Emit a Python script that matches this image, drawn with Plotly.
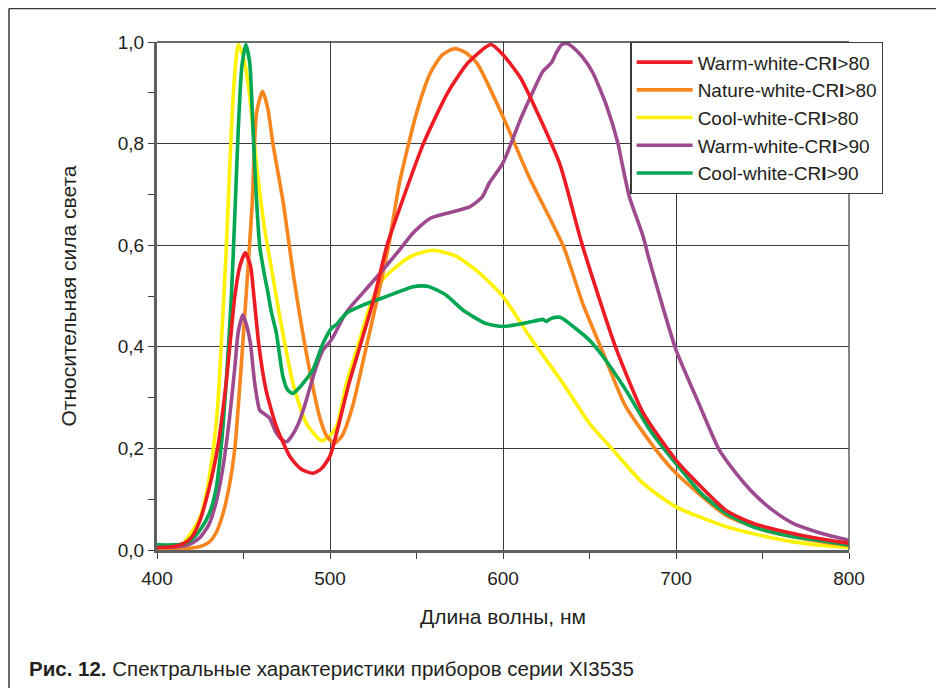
import plotly.graph_objects as go

# ---------------- data ----------------
legend_names = ["Warm-white-CR<b>I</b>>80", "Nature-white-CR<b>I</b>>80", "Cool-white-CR<b>I</b>>80",
                "Warm-white-CR<b>I</b>>90", "Cool-white-CR<b>I</b>>90"]

warm80_x = [400, 410, 415, 420, 425, 430, 435, 440, 445, 448, 451, 454, 456, 459, 463, 469, 477, 483,
            490, 495, 500, 511, 525, 533, 540, 554, 568, 580, 593, 600, 610, 620, 633, 645, 654, 665,
            681, 700, 710, 729, 745, 767, 785, 800]
warm80_y = [0.005, 0.007, 0.012, 0.025, 0.06, 0.12, 0.2, 0.33, 0.5, 0.56, 0.585, 0.56, 0.5, 0.4, 0.315,
            0.243, 0.183, 0.16, 0.151, 0.16, 0.185, 0.328, 0.49, 0.6, 0.67, 0.8, 0.9, 0.96, 0.995, 0.975,
            0.93, 0.86, 0.758, 0.61, 0.512, 0.40, 0.27, 0.177, 0.14, 0.078, 0.052, 0.033, 0.021, 0.013]

nature80_x = [400, 415, 420, 425, 430, 434, 438, 442, 445, 448, 452, 455, 457.5, 461, 464, 467, 473,
              479, 486, 494, 498, 502.5, 507, 513, 521, 529, 534.5, 540, 550, 558, 565, 572, 578, 585,
              600, 615, 635, 646, 658, 671, 690, 700, 729, 750, 768, 785, 800]
nature80_y = [0.002, 0.003, 0.004, 0.007, 0.015, 0.033, 0.07, 0.13, 0.2, 0.33, 0.525, 0.68, 0.86, 0.903,
              0.87, 0.80, 0.683, 0.538, 0.394, 0.262, 0.225, 0.21, 0.225, 0.282, 0.40, 0.52, 0.61, 0.72,
              0.86, 0.939, 0.975, 0.987, 0.98, 0.958, 0.853, 0.735, 0.597, 0.486, 0.387, 0.282, 0.19,
              0.151, 0.068, 0.04, 0.026, 0.016, 0.009]

cool80_x = [400, 410, 415, 420, 425, 429, 432.5, 435, 437, 440, 443, 445, 447, 450, 453.6, 457.4, 462.3,
            467, 471, 478.6, 486.4, 495, 500, 504, 509.5, 516, 523, 530, 538.4, 548, 559.5, 573, 586.5,
            600, 615.4, 634.7, 650, 662, 681, 700, 729, 750, 768, 785, 800]
cool80_y = [0.005, 0.008, 0.013, 0.035, 0.065, 0.12, 0.197, 0.28, 0.394, 0.59, 0.827, 0.94, 0.995, 0.97,
            0.893, 0.762, 0.63, 0.538, 0.459, 0.328, 0.249, 0.215, 0.225, 0.245, 0.328, 0.40, 0.479, 0.53,
            0.558, 0.58, 0.59, 0.578, 0.545, 0.499, 0.42, 0.328, 0.249, 0.203, 0.131, 0.085, 0.046,
            0.028, 0.016, 0.009, 0.005]

warm90_x = [400, 410, 415, 420, 425, 430, 434, 438, 442, 445, 447, 449.7, 452, 454, 456.5, 459.4, 462,
            465, 469, 472, 475, 478, 481, 485, 488, 492, 496, 500, 503, 508, 512, 520, 529, 540, 548, 558,
            570, 581, 588, 592, 600, 610, 617, 623, 628, 631, 634, 637, 640, 646, 652, 660, 666.5, 668.4,
            673, 681, 684, 690.6, 700, 714, 725, 735, 745, 756, 768, 785, 800]
warm90_y = [0.005, 0.006, 0.008, 0.013, 0.025, 0.05, 0.092, 0.16, 0.262, 0.36, 0.43, 0.463, 0.44, 0.407,
            0.328, 0.275, 0.268, 0.26, 0.23, 0.218, 0.213, 0.225, 0.243, 0.28, 0.315, 0.36, 0.394, 0.41,
            0.427, 0.46, 0.479, 0.51, 0.545, 0.59, 0.624, 0.653, 0.665, 0.676, 0.695, 0.722, 0.762, 0.847,
            0.9, 0.942, 0.959, 0.98, 0.995, 0.997, 0.991, 0.97, 0.939, 0.873, 0.80, 0.768, 0.696, 0.617,
            0.578, 0.499, 0.394, 0.282, 0.197, 0.15, 0.111, 0.078, 0.052, 0.032, 0.019]

cool90_x = [400, 410, 415, 420, 425, 430, 434, 437, 440, 443, 445, 447, 449, 451.3, 453.6, 455.5, 457.4,
            459.4, 462.3, 464.2, 466, 469, 472.8, 475.5, 478.6, 481, 484.4, 490, 496, 500.8, 504, 509.5,
            519, 532.6, 548, 553, 557.6, 567, 577, 590, 600, 611.6, 620, 623, 625, 628, 633, 642, 650,
            658, 671, 685, 700, 715, 729, 745, 768, 785, 800]
cool90_y = [0.01, 0.01, 0.012, 0.02, 0.04, 0.07, 0.118, 0.2, 0.33, 0.5, 0.66, 0.83, 0.95, 0.995, 0.959,
            0.827, 0.696, 0.597, 0.538, 0.505, 0.47, 0.427, 0.341, 0.315, 0.308, 0.315, 0.328, 0.354,
            0.407, 0.436, 0.445, 0.466, 0.482, 0.499, 0.518, 0.52, 0.518, 0.502, 0.472, 0.446, 0.44,
            0.446, 0.452, 0.454, 0.45, 0.456, 0.458, 0.436, 0.413, 0.38, 0.315, 0.236, 0.17, 0.11, 0.072,
            0.045, 0.026, 0.018, 0.01]

y_tickvals = [0.0, 0.2, 0.4, 0.6, 0.8, 1.0]
x_tickvals = [400, 500, 600, 700, 800]

x_title = "Длина волны, нм"
y_title = "Относительная сила света"
caption = "<b>Рис. 12.</b> Спектральные характеристики приборов серии XI3535"

# ---------------- figure ----------------
colors = {"warm80": "#ED1C24", "nature80": "#F7861E", "cool80": "#FFF200",
          "warm90": "#9D4A8F", "cool90": "#00A651"}

series = [  # draw order (bottom -> top), legend rank keeps reference order
    ("cool80", cool80_x, cool80_y, legend_names[2], 3),
    ("nature80", nature80_x, nature80_y, legend_names[1], 2),
    ("warm90", warm90_x, warm90_y, legend_names[3], 4),
    ("cool90", cool90_x, cool90_y, legend_names[4], 5),
    ("warm80", warm80_x, warm80_y, legend_names[0], 1),
]

fig = go.Figure()
for key, xs, ys, name, rank in series:
    fig.add_trace(go.Scatter(
        x=xs, y=ys, name=name, mode="lines", legendrank=rank,
        line=dict(color=colors[key], width=3.6, shape="spline", smoothing=0.6),
    ))

font_main = "Liberation Sans, Arial, sans-serif"
txt = "#231F20"

# page body adds an 8px offset, so the figure is 936x680 and margins are reduced by 8
fig.update_layout(
    width=936, height=680,
    margin=dict(l=149, r=95, t=34, b=138),
    paper_bgcolor="white", plot_bgcolor="white",
    separators=", ",
    font=dict(family=font_main, size=19, color=txt),
    showlegend=True,
    legend=dict(
        x=0.684, y=1.0, xanchor="left", yanchor="top",
        bgcolor="white", bordercolor="#3a3a3a", borderwidth=1.3,
        font=dict(family=font_main, size=19, color=txt),
        itemwidth=56, traceorder="normal",
    ),
    xaxis=dict(
        range=[400, 800], tickvals=x_tickvals, ticks="outside", ticklen=6, tickwidth=1.3,
        tickcolor="#3a3a3a", ticklabelstandoff=3,
        minor=dict(dtick=50, tick0=400, ticks="outside", ticklen=6, tickwidth=1.3, tickcolor="#3a3a3a",
                   showgrid=False),
        showgrid=True, gridcolor="#3a3a3a", gridwidth=1.3,
        showline=True, linecolor="#5f5f5f", linewidth=3,
        zeroline=False,
        title=dict(text=x_title, font=dict(size=21), standoff=22),
        tickfont=dict(size=19),
    ),
    yaxis=dict(
        range=[0, 1], tickvals=y_tickvals, tickformat=".1f", ticks="outside", ticklen=6, tickwidth=1.3,
        tickcolor="#3a3a3a",
        minor=dict(dtick=0.1, tick0=0, ticks="outside", ticklen=6, tickwidth=1.3, tickcolor="#3a3a3a",
                   showgrid=False),
        showgrid=True, gridcolor="#3a3a3a", gridwidth=1.3,
        showline=True, linecolor="#5f5f5f", linewidth=3,
        zeroline=False,
        title=dict(text=y_title, font=dict(size=21), standoff=36),
        tickfont=dict(size=19),
    ),
    shapes=[
        # top and right edges of plot area
        dict(type="line", xref="paper", yref="paper", x0=0, x1=1, y0=1, y1=1,
             line=dict(color="#3a3a3a", width=1.5), layer="above"),
        dict(type="line", xref="paper", yref="paper", x0=1, x1=1, y0=0, y1=1,
             line=dict(color="#5f5f5f", width=1.5), layer="above"),
        # page frame (top and left)
        dict(type="line", xref="paper", yref="paper", x0=-0.2139, x1=1.14, y0=1.0659, y1=1.0659,
             line=dict(color="#3a3a3a", width=1.5)),
        dict(type="line", xref="paper", yref="paper", x0=-0.2139, x1=-0.2139, y0=1.0659, y1=-0.28,
             line=dict(color="#3a3a3a", width=1.5)),
    ],
    annotations=[
        dict(text=caption, xref="paper", yref="paper", x=-0.188, y=-0.234, xanchor="left",
             yanchor="middle", showarrow=False,
             font=dict(family=font_main, size=20.5, color=txt)),
    ],
)

fig.write_html("out.html")
